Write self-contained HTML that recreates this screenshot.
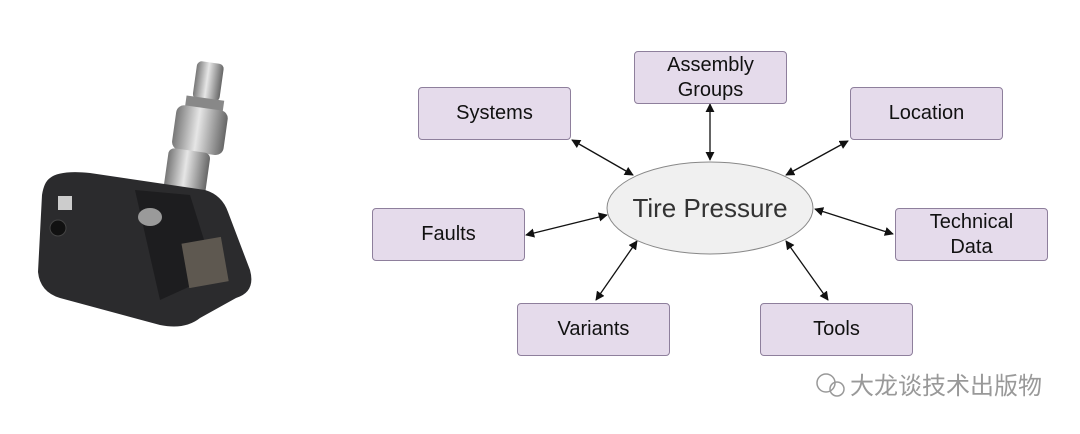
<!DOCTYPE html>
<html><head><meta charset="utf-8"><style>
body{margin:0;width:1080px;height:434px;background:#fff;overflow:hidden;position:relative;font-family:"Liberation Sans","Noto Sans CJK SC",sans-serif}
.b{position:absolute;width:151px;height:51px;background:#e5dbeb;border:1px solid #8e7f9c;border-radius:4px;display:flex;align-items:center;justify-content:center;text-align:center;font-size:20px;line-height:25px;color:#111}
</style></head><body>
<svg width="1080" height="434" style="position:absolute;left:0;top:0">
<defs><marker id="a" viewBox="0 0 10 10" refX="9" refY="5" markerWidth="7" markerHeight="7" orient="auto-start-reverse"><path d="M0,0 L10,5 L0,10 z" fill="#111"/></marker>
<linearGradient id="m" x1="0" x2="1"><stop offset="0" stop-color="#777"/><stop offset=".45" stop-color="#e6e6e6"/><stop offset="1" stop-color="#666"/></linearGradient></defs>
<g stroke="#111" stroke-width="1.3" marker-start="url(#a)" marker-end="url(#a)">
<line x1="572" y1="140" x2="633" y2="175"/>
<line x1="710" y1="104" x2="710" y2="160"/>
<line x1="848" y1="141" x2="786" y2="175"/>
<line x1="526" y1="235" x2="607" y2="215"/>
<line x1="893" y1="234" x2="815" y2="209"/>
<line x1="596" y1="300" x2="637" y2="241"/>
<line x1="828" y1="300" x2="786" y2="241"/>
</g>
<ellipse cx="710" cy="208" rx="103" ry="46" fill="#f0f0f0" stroke="#888" stroke-width="1"/>
<text x="710" y="217" text-anchor="middle" font-size="26" fill="#333" font-family="Liberation Sans">Tire Pressure</text>
<!-- sensor -->
<g transform="rotate(8 190 100)">
<rect x="192" y="60" width="27" height="38" rx="5" fill="url(#m)"/>
<rect x="186" y="96" width="38" height="12" fill="#888"/>
<rect x="178" y="106" width="52" height="45" rx="8" fill="url(#m)"/>
<rect x="176" y="150" width="42" height="45" rx="6" fill="url(#m)"/>
</g>
<path d="M50,178 Q60,170 90,173 L205,190 Q222,195 228,212 L250,270 Q256,292 236,298 L200,318 Q185,330 160,325 L60,298 Q40,292 38,272 L42,195 Q44,182 50,178 Z" fill="#2b2b2d"/>
<path d="M135,190 L190,195 L215,275 L160,300 Z" fill="#1d1d1f"/>
<ellipse cx="150" cy="217" rx="12" ry="9" fill="#9a9a9a"/>
<rect x="185" y="240" width="40" height="45" fill="#5e5850" transform="rotate(-10 205 262)"/>
<circle cx="58" cy="228" r="8" fill="#111" stroke="#444"/>
<rect x="58" y="196" width="14" height="14" fill="#ccc"/>
<!-- watermark -->
<circle cx="826" cy="383" r="9" fill="none" stroke="#999" stroke-width="1.5"/>
<circle cx="837" cy="389" r="7" fill="none" stroke="#999" stroke-width="1.5"/>
<text x="850" y="394" font-size="24" fill="#999" font-family="Liberation Sans,Noto Sans CJK SC,sans-serif">大龙谈技术出版物</text>
</svg>
<div class="b" style="left:418px;top:87px">Systems</div>
<div class="b" style="left:634px;top:51px">Assembly<br>Groups</div>
<div class="b" style="left:850px;top:87px">Location</div>
<div class="b" style="left:372px;top:208px">Faults</div>
<div class="b" style="left:895px;top:208px">Technical<br>Data</div>
<div class="b" style="left:517px;top:303px">Variants</div>
<div class="b" style="left:760px;top:303px">Tools</div>
</body></html>
